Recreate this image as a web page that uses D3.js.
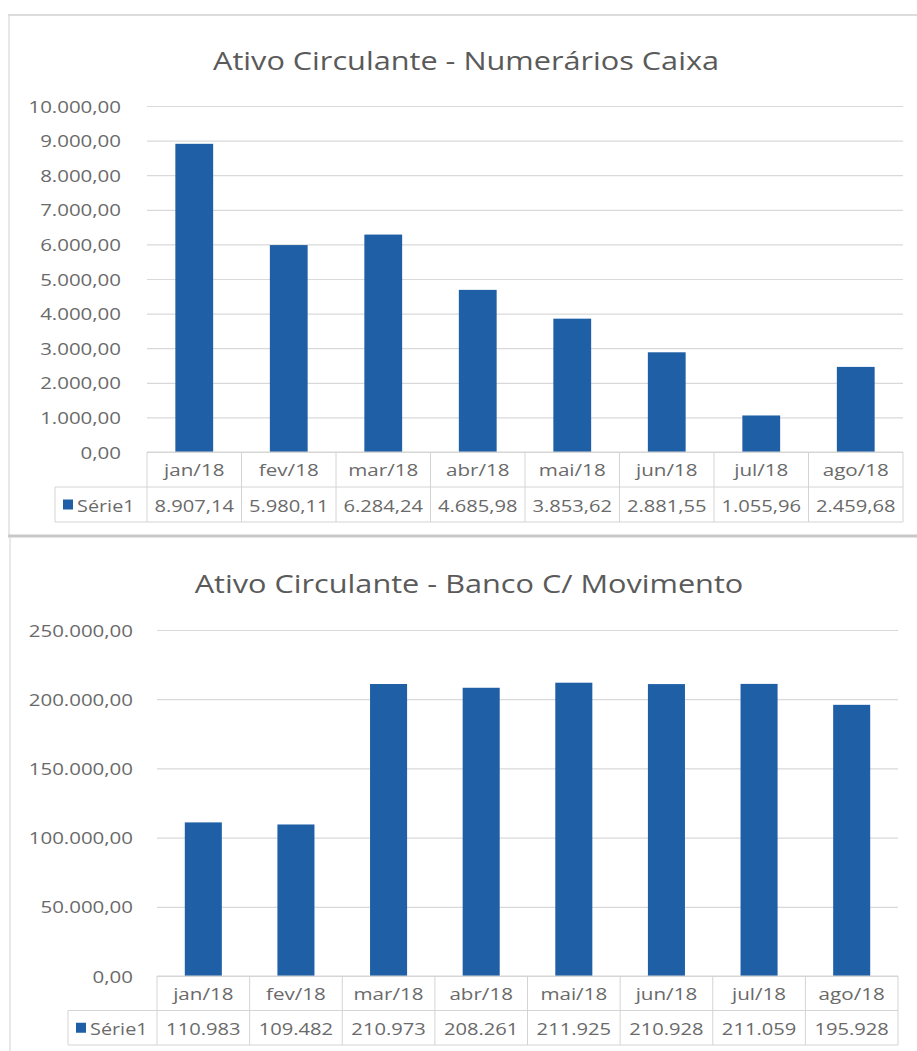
<!DOCTYPE html>
<html>
<head>
<meta charset="utf-8">
<script src="https://cdn.jsdelivr.net/npm/d3@7"></script>
<style>
  html, body { margin: 0; padding: 0; background: #fff; }
  svg { display: block; font-family: "Open Sans", "Liberation Sans", sans-serif; }
</style>
</head>
<body>
<svg id="chart" width="917" height="1051"></svg>
<script>
// ---------------- DATA ----------------
const categories = ["jan/18", "fev/18", "mar/18", "abr/18", "mai/18", "jun/18", "jul/18", "ago/18"];
const seriesName = "Série1";

const caixaTitle = "Ativo Circulante - Numerários Caixa";
const caixaValues = [8907.14, 5980.11, 6284.24, 4685.98, 3853.62, 2881.55, 1055.96, 2459.68];
const caixaTicks = [0, 1000, 2000, 3000, 4000, 5000, 6000, 7000, 8000, 9000, 10000];

const bancoTitle = "Ativo Circulante - Banco C/ Movimento";
const bancoValues = [110983, 109482, 210973, 208261, 211925, 210928, 211059, 195928];
const bancoTicks = [0, 50000, 100000, 150000, 200000, 250000];

// ---------------- SETUP ----------------
const pt = d3.formatLocale({ decimal: ",", thousands: ".", grouping: [3], currency: ["R$", ""] });
const fmt2 = pt.format(",.2f");
const fmt0 = pt.format(",.0f");

const BAR = "#1f5fa6";
const TXT = "#6a6a6a";
const GRID = "#d9d9d9";
const TABLE = "#d4d4d4";

const svg = d3.select("#chart");
svg.append("rect").attr("width", 917).attr("height", 1051).attr("fill", "#fff");

function label(g, x, y, str, size, anchor, sx) {
  return g.append("text")
    .attr("transform", `translate(${x},${y}) scale(${sx},1)`)
    .attr("text-anchor", anchor)
    .attr("dominant-baseline", "central")
    .attr("font-size", size)
    .attr("fill", TXT)
    .text(str);
}

function drawChart(cfg) {
  const g = svg.append("g");
  const x = d3.scaleBand().domain(categories).range([cfg.x0, cfg.x1])
    .paddingInner(0.6).paddingOuter(0.3);
  const y = d3.scaleLinear().domain([0, cfg.ticks[cfg.ticks.length - 1]]).range([cfg.yBase, cfg.yTop]);

  // title
  label(g, cfg.titleX, cfg.titleY, cfg.title, 26, "middle", 1.18).attr("fill", "#5a5a5a");

  // gridlines
  const yAxis = d3.axisLeft(y).tickValues(cfg.ticks).tickSize(-(cfg.x1 - cfg.x0)).tickFormat("");
  const ga = g.append("g").attr("transform", `translate(${cfg.x0},0)`).call(yAxis);
  ga.select(".domain").remove();
  ga.selectAll(".tick line").attr("stroke", GRID).attr("stroke-width", 1.2);

  // y labels
  cfg.ticks.forEach(t => label(g, cfg.labelX, y(t), fmt2(t), 16, "end", 1.28));

  // bars
  g.selectAll("rect.bar").data(cfg.values).enter().append("rect")
    .attr("class", "bar")
    .attr("x", (d, i) => x(categories[i]))
    .attr("width", x.bandwidth())
    .attr("y", d => y(d))
    .attr("height", d => y(0) - y(d))
    .attr("fill", BAR);

  // data table
  const step = x.step();
  const r1 = cfg.yBase, r2 = cfg.yBase + cfg.rowH, r3 = cfg.yBase + 2 * cfg.rowH;
  const lines = [
    [cfg.x0, r1, cfg.x1, r1],
    [cfg.legX, r2, cfg.x1, r2],
    [cfg.legX, r3, cfg.x1, r3],
    [cfg.legX, r2, cfg.legX, r3]
  ];
  categories.forEach((c, i) => lines.push([cfg.x0 + i * step, r1, cfg.x0 + i * step, r3]));
  lines.push([cfg.x1, r1, cfg.x1, r3]);
  g.selectAll("line.tbl").data(lines).enter().append("line")
    .attr("class", "tbl")
    .attr("x1", d => d[0]).attr("y1", d => d[1]).attr("x2", d => d[2]).attr("y2", d => d[3])
    .attr("stroke", TABLE).attr("stroke-width", 1);

  categories.forEach((c, i) => {
    const cx = x(c) + x.bandwidth() / 2;
    label(g, cx, (r1 + r2) / 2 + 1, c, 15.5, "middle", 1.33);
    label(g, cx, (r2 + r3) / 2 + 1, cfg.format(cfg.values[i]), 15.5, "middle", 1.3);
  });

  // legend key
  g.append("rect").attr("x", cfg.legX + 8).attr("y", (r2 + r3) / 2 - 5)
    .attr("width", 10).attr("height", 10).attr("fill", BAR);
  label(g, cfg.legX + 22, (r2 + r3) / 2 + 1, seriesName, 15.5, "start", 1.28);
}

// frames
svg.append("line").attr("x1", 8).attr("x2", 917).attr("y1", 15).attr("y2", 15)
  .attr("stroke", "#d0d0d0").attr("stroke-width", 1.5);
svg.append("line").attr("x1", 9).attr("x2", 9).attr("y1", 15).attr("y2", 535)
  .attr("stroke", "#e0e0e0").attr("stroke-width", 1.5);
svg.append("line").attr("x1", 8).attr("x2", 917).attr("y1", 536).attr("y2", 536)
  .attr("stroke", "#c8c8c8").attr("stroke-width", 3);
svg.append("line").attr("x1", 10).attr("x2", 10).attr("y1", 537).attr("y2", 1051)
  .attr("stroke", "#e0e0e0").attr("stroke-width", 1.5);

drawChart({
  title: caixaTitle, titleX: 466, titleY: 60,
  values: caixaValues, ticks: caixaTicks, format: fmt2,
  x0: 147, x1: 903, yBase: 452, yTop: 106, labelX: 121,
  rowH: 35, legX: 55
});

drawChart({
  title: bancoTitle, titleX: 469, titleY: 583,
  values: bancoValues, ticks: bancoTicks, format: fmt0,
  x0: 157, x1: 898, yBase: 976, yTop: 630, labelX: 133,
  rowH: 34.5, legX: 68
});
</script>
</body>
</html>
